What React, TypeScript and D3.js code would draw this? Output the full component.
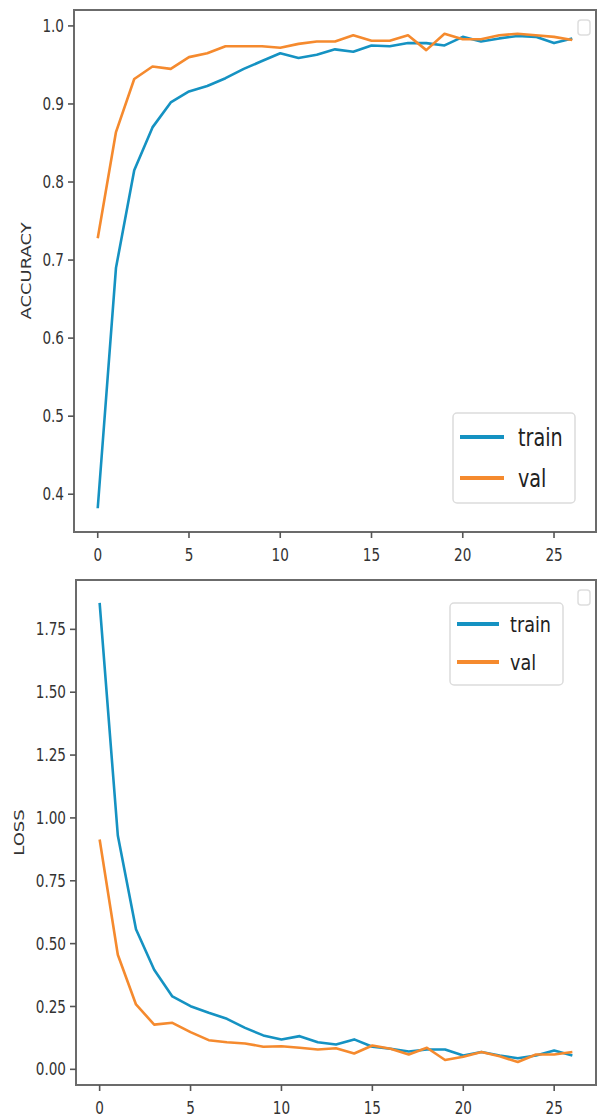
import { useEffect, useRef } from "react";
import * as d3 from "d3";

const epochs = d3.range(0, 27);

const accTrain = [
  0.382, 0.69, 0.815, 0.87, 0.902, 0.916, 0.923, 0.933, 0.945, 0.955, 0.965, 0.959, 0.963, 0.97,
  0.967, 0.975, 0.974, 0.978, 0.978, 0.975, 0.986, 0.98, 0.984, 0.987, 0.986, 0.978, 0.984,
];
const accVal = [
  0.728, 0.864, 0.932, 0.948, 0.945, 0.96, 0.965, 0.974, 0.974, 0.974, 0.972, 0.977, 0.98, 0.98,
  0.988, 0.981, 0.981, 0.988, 0.969, 0.99, 0.983, 0.983, 0.988, 0.99, 0.988, 0.986, 0.982,
];
const lossTrain = [
  1.855, 0.93, 0.557, 0.396, 0.29, 0.251, 0.225, 0.201, 0.165, 0.135, 0.119, 0.132, 0.108, 0.099,
  0.119, 0.09, 0.082, 0.071, 0.079, 0.079, 0.055, 0.069, 0.055, 0.044, 0.055, 0.075, 0.055,
];
const lossVal = [
  0.914, 0.456, 0.258, 0.178, 0.185, 0.148, 0.116, 0.108, 0.103, 0.09, 0.092, 0.086, 0.079, 0.084,
  0.063, 0.095, 0.082, 0.059, 0.086, 0.037, 0.05, 0.069, 0.052, 0.029, 0.059, 0.059, 0.069,
];

const xTicks = [0, 5, 10, 15, 20, 25];
const accTicks = [0.4, 0.5, 0.6, 0.7, 0.8, 0.9, 1.0];
const lossTicks = [0, 0.25, 0.5, 0.75, 1.0, 1.25, 1.5, 1.75];
const seriesNames = ["train", "val"];

const BLUE = "#1592c2";
const ORANGE = "#f58a2e";
const FONT = "DejaVu Sans, sans-serif";
const SQ = 0.8; // picture is squashed horizontally

const pad = (vals) => {
  const lo = d3.min(vals);
  const hi = d3.max(vals);
  const m = (hi - lo) * 0.05;
  return [lo - m, hi + m];
};

const drawPanel = (svg, cfg) => {
  const { box, train, val, yTicks, yFmt, label, labelX, legend } = cfg;
  const g = svg.append("g");

  const x = d3.scaleLinear().domain([-1.3, 27.3]).range([box.left, box.right]);
  const y = d3.scaleLinear().domain(pad([...train, ...val])).range([box.bottom, box.top]);

  const line = d3
    .line()
    .x((d, i) => x(epochs[i]))
    .y((d) => y(d));

  [
    [train, BLUE],
    [val, ORANGE],
  ].forEach(([data, color]) => {
    g.append("path")
      .attr("d", line(data))
      .attr("fill", "none")
      .attr("stroke", color)
      .attr("stroke-width", 2.6)
      .attr("stroke-linejoin", "round");
  });

  // frame
  g.append("rect")
    .attr("x", box.left)
    .attr("y", box.top)
    .attr("width", box.right - box.left)
    .attr("height", box.bottom - box.top)
    .attr("fill", "none")
    .attr("stroke", "#6b6b6b")
    .attr("stroke-width", 2);

  // y ticks
  yTicks.forEach((t) => {
    g.append("line")
      .attr("x1", box.left - 6)
      .attr("x2", box.left)
      .attr("y1", y(t))
      .attr("y2", y(t))
      .attr("stroke", "#555")
      .attr("stroke-width", 1.6);
    g.append("text")
      .attr("transform", `translate(${box.left - 10},${y(t)}) scale(${SQ},1)`)
      .attr("text-anchor", "end")
      .attr("dy", "0.36em")
      .attr("font-family", FONT)
      .attr("font-size", 17)
      .attr("fill", "#333")
      .text(yFmt(t));
  });

  // x ticks
  xTicks.forEach((t) => {
    g.append("line")
      .attr("x1", x(t))
      .attr("x2", x(t))
      .attr("y1", box.bottom)
      .attr("y2", box.bottom + 6)
      .attr("stroke", "#555")
      .attr("stroke-width", 1.6);
    g.append("text")
      .attr("transform", `translate(${x(t)},${box.bottom + 29}) scale(${SQ},1)`)
      .attr("text-anchor", "middle")
      .attr("font-family", FONT)
      .attr("font-size", 17)
      .attr("fill", "#333")
      .text(t);
  });

  // y label
  g.append("text")
    .attr("transform", `translate(${labelX},${(box.top + box.bottom) / 2}) scale(${SQ},1) rotate(-90)`)
    .attr("text-anchor", "middle")
    .attr("dy", "0.36em")
    .attr("font-family", FONT)
    .attr("font-size", 18)
    .attr("fill", "#333")
    .text(label);

  // stray empty legend box in the corner
  g.append("rect")
    .attr("x", box.right - 18)
    .attr("y", box.top + 10)
    .attr("width", 12)
    .attr("height", 15)
    .attr("rx", 3)
    .attr("fill", "white")
    .attr("stroke", "#dedede")
    .attr("stroke-width", 1.5);

  // legend
  const lg = g.append("g");
  lg.append("rect")
    .attr("x", legend.x)
    .attr("y", legend.y)
    .attr("width", legend.w)
    .attr("height", legend.h)
    .attr("rx", 4)
    .attr("fill", "white")
    .attr("stroke", "#dcdcdc")
    .attr("stroke-width", 1.5);
  seriesNames.forEach((name, i) => {
    const ly = legend.y + legend.row0 + i * legend.rowGap;
    lg.append("line")
      .attr("x1", legend.x + 7)
      .attr("x2", legend.x + 7 + legend.lineLen)
      .attr("y1", ly)
      .attr("y2", ly)
      .attr("stroke", i === 0 ? BLUE : ORANGE)
      .attr("stroke-width", 4);
    lg.append("text")
      .attr("transform", `translate(${legend.x + legend.textX},${ly + legend.fs * 0.36}) scale(${SQ},1)`)
      .attr("font-family", FONT)
      .attr("font-size", legend.fs)
      .attr("fill", "#222")
      .text(name);
  });
};

const App = () => {
  const svgRef = useRef(null);

  useEffect(() => {
    const svg = d3.select(svgRef.current);
    svg.selectAll("*").remove();

    drawPanel(svg, {
      box: { left: 74, right: 596, top: 10, bottom: 532 },
      train: accTrain,
      val: accVal,
      yTicks: accTicks,
      yFmt: d3.format(".1f"),
      label: "ACCURACY",
      labelX: 26,
      legend: { x: 453, y: 413, w: 122, h: 90, row0: 24, rowGap: 41, lineLen: 44, textX: 65, fs: 24 },
    });

    drawPanel(svg, {
      box: { left: 76, right: 596, top: 580, bottom: 1085 },
      train: lossTrain,
      val: lossVal,
      yTicks: lossTicks,
      yFmt: d3.format(".2f"),
      label: "LOSS",
      labelX: 19,
      legend: { x: 450, y: 603, w: 113, h: 82, row0: 21, rowGap: 38, lineLen: 42, textX: 60, fs: 22 },
    });
  }, []);

  return (
    <div style={{ position: "absolute", left: 0, top: 0, background: "white" }}>
      <svg ref={svgRef} width={598} height={1118} style={{ display: "block" }}></svg>
    </div>
  );
};

export default App;
